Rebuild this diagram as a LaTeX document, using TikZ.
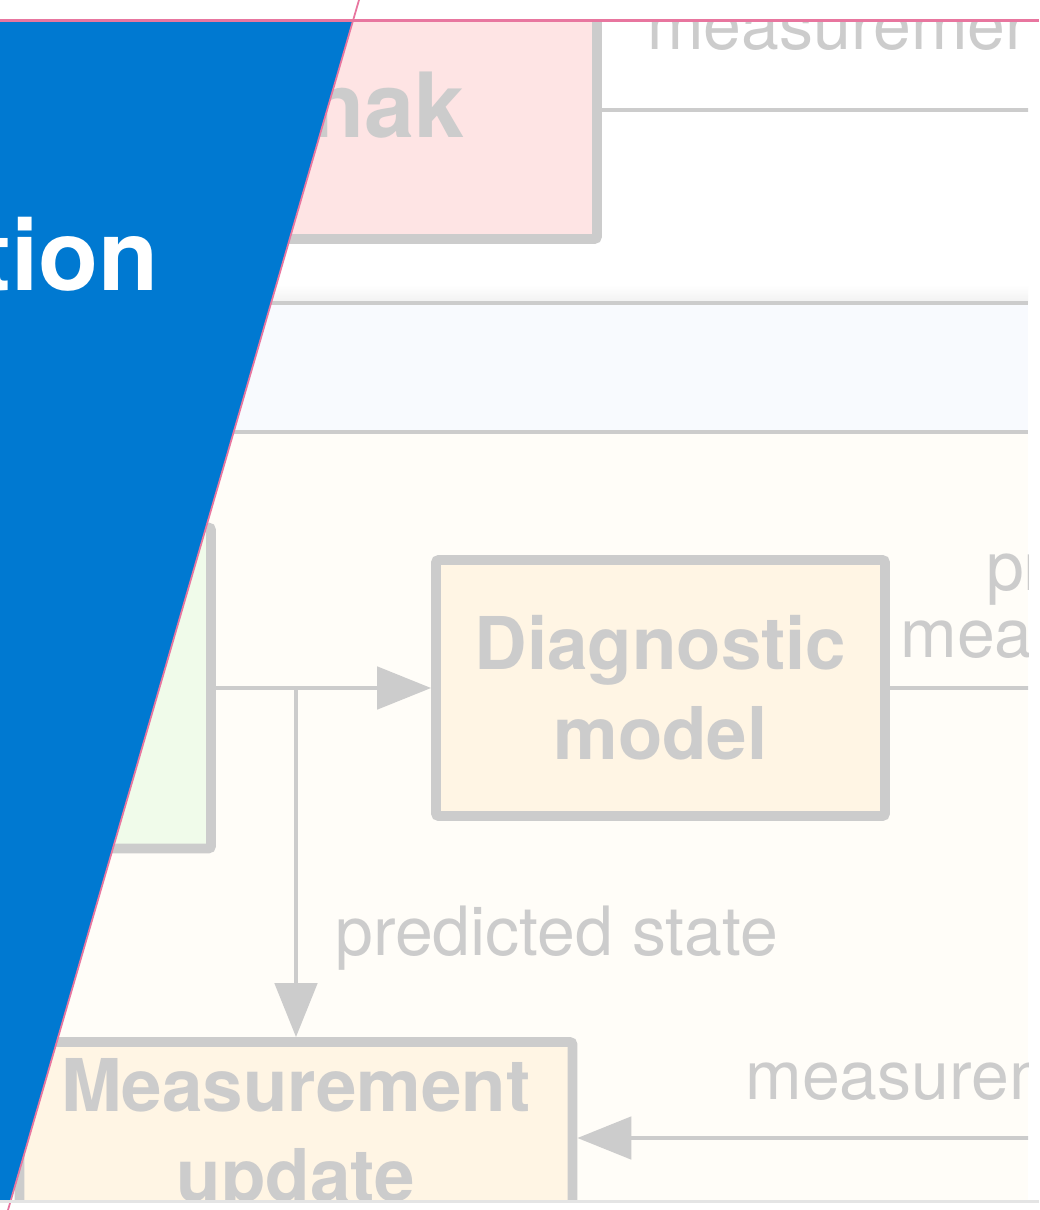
\documentclass[tikz,border=0pt]{standalone}
\usepackage{fontspec}
\setmainfont{TeX Gyre Heros}
\usetikzlibrary{arrows.meta}

\definecolor{linegray}{HTML}{CCCCCC}
\definecolor{tokfill}{HTML}{FEE4E4}
\definecolor{predfill}{HTML}{F0FBEA}
\definecolor{modfill}{HTML}{FFF5E4}
\definecolor{bandfill}{HTML}{F8FAFE}
\definecolor{areafill}{HTML}{FFFDF8}
\definecolor{shadowgray}{HTML}{F1F1F1}
\definecolor{titleblue}{HTML}{0079D1}
\definecolor{edgepink}{HTML}{E8769F}
\definecolor{rulegray}{HTML}{E4E4E4}

\begin{document}
\begin{tikzpicture}
		[x=0.02cm, y=-0.02cm,
		box/.style= {draw=linegray,line width=5.6pt,rounded corners=1.5pt,fill=modfill,text=linegray,
			font=\bfseries\fontsize{41.4}{51.2}\selectfont,align=center,inner sep=0pt},
		lbl/.style= {text=linegray,font=\fontsize{38.7}{38.1}\selectfont,inner sep=0pt},
		wire/.style= {draw=linegray,line width=2.8pt},
		flow/.style= {wire,-{Triangle[length=30.7pt,width=23.9pt]}}]

		\useasboundingbox (0,0) rectangle (1039,1210);
		\fill[white] (0,0) rectangle (1039,1210);

		\begin{scope}
			\clip (0,21) rectangle (1028,1200);

			% lanes
			\shade[top color=white,bottom color=shadowgray] (0,285) rectangle (1028,303);
			\fill[bandfill] (0,303) rectangle (1028,432);
			\fill[areafill] (0,432) rectangle (1028,1200);
			\draw[wire] (0,303) -- (1028,303);
			\draw[wire] (0,432) -- (1028,432);

			\coordinate (out0) at (1040,110);
			\coordinate (out1) at (1040,688);
			\coordinate (in2) at (1040,1138);
			\coordinate (split) at (296,688);

			\node[box,fill=tokfill,minimum width=13.34cm,minimum height=5.16cm] (tokamak) at (263.5,110) {}
				edge [wire]	(out0)
			;
			\node[anchor=base east,text=linegray,inner sep=0pt,
				font=\bfseries\fontsize{51.2}{60}\selectfont] (toktxt) at (465,137) {nak};

			\node[box,fill=predfill,minimum width=6.22cm,minimum height=6.42cm] (predict) at (55.5,688) {};

			\node[box,minimum width=8.98cm,minimum height=5.12cm] (diag) at (660.5,688) {Diagnostic\\model}
				edge [wire]	(out1)
			;

			\node[box,minimum width=11.06cm,minimum height=3.84cm] (update) at (296,1138) {Measurement\\update};

			\draw[flow] (predict.east) -- (diag.west);
			\draw[flow] (split) -- (update.north);
			\draw[flow] (in2) -- (update.east);

			\node[lbl,anchor=base west] (lblstate) at (335,955) {predicted state};
			\node[lbl,align=center] (lblpred) at (1125,600) {predicted\\measurements};
			\node[lbl,anchor=base west] (lblmeas0) at (647,50) {measurement};
			\node[lbl,anchor=base west] (lblmeas1) at (745,1099) {measurement};
		\end{scope}

		% title wedge
		\fill[titleblue] (0,21) -- (353,21) -- (10.9,1201) -- (0,1201) -- cycle;
		\node[anchor=base east,text=white,inner sep=0pt,
			font=\bfseries\fontsize{56}{66}\selectfont] (title) at (159,290) {tion};
		\draw[edgepink,line width=1.6pt] (0,20.5) -- (1039,20.5);
		\draw[edgepink,line width=1pt] (359,0) -- (8,1210);
		\draw[rulegray,line width=1.2pt] (0,1201.5) -- (1039,1201.5);

	\end{tikzpicture}
\end{document}
